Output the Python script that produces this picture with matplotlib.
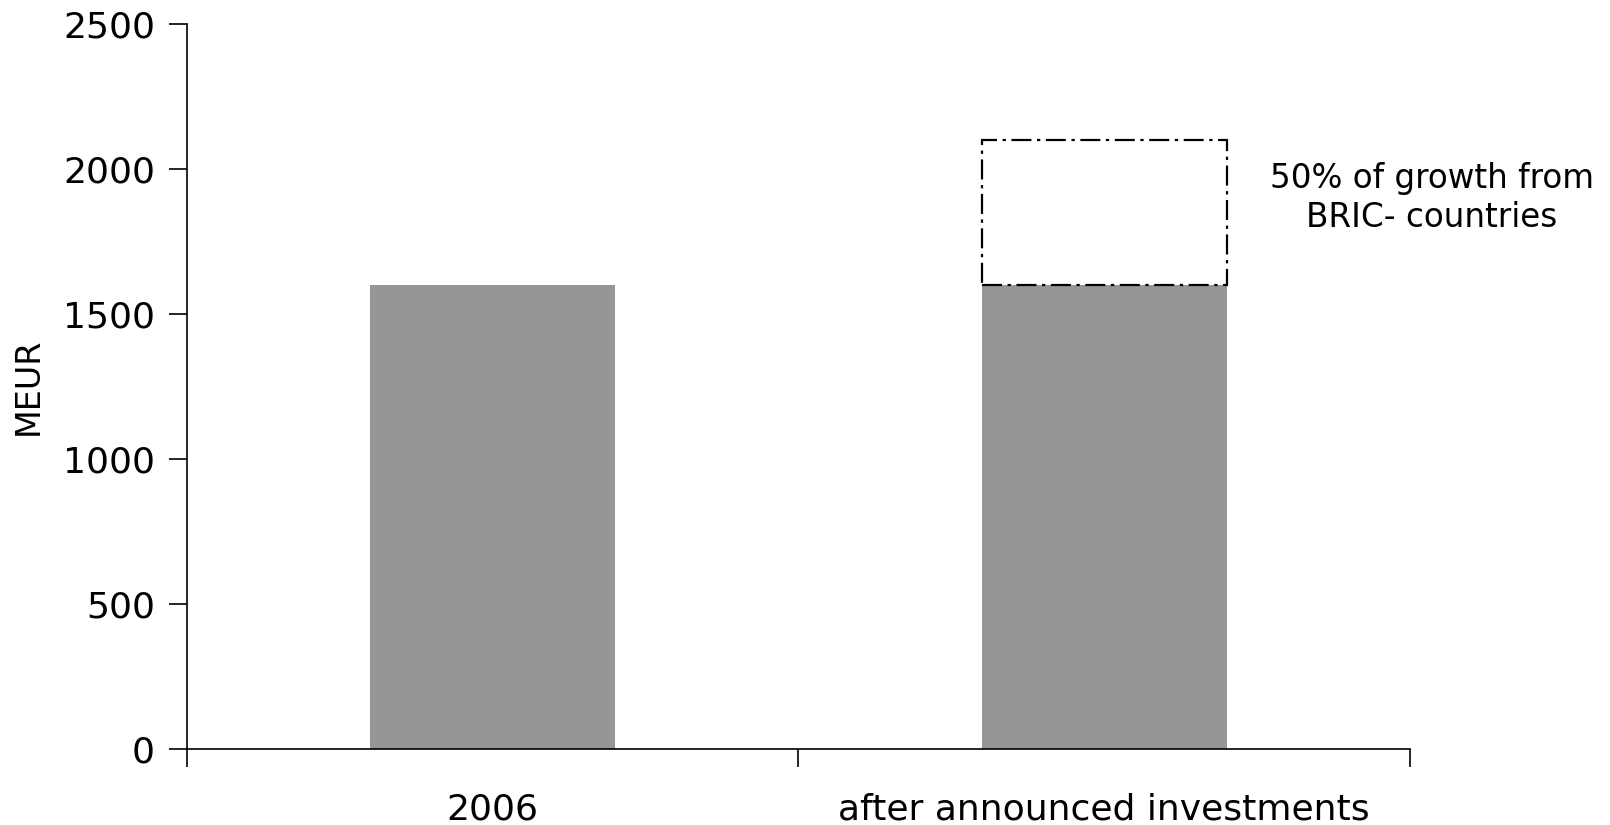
import matplotlib
matplotlib.use("Agg")
import matplotlib.pyplot as plt

# revenue in MEUR
categories = ['2006', 'after announced investments']
revenue = [1600, 1600]
growth = [0, 500]          # expected growth on top of current revenue
growth_note = '50% of growth from\nBRIC- countries'
yticks = [0, 500, 1000, 1500, 2000, 2500]

plt.rcParams['font.family'] = ['DejaVu Sans']

fig = plt.figure(figsize=(16.10, 8.25), dpi=100)
ax = fig.add_axes([0.1161, 0.0921, 0.7597, 0.8788])

x = list(range(len(categories)))
ax.bar(x, revenue, width=0.4, color='#969696', zorder=2)

# dashed box for the planned growth
for xi, base, g in zip(x, revenue, growth):
    if g <= 0:
        continue
    ax.bar(xi, g, bottom=base, width=0.4, fill=False, edgecolor='black',
           linewidth=1.6, linestyle=(0, (9, 2.5, 1.5, 2.5)), zorder=3)
    ax.text(xi + 0.536, base + g * 0.6, growth_note, ha='center', va='center',
            fontsize=23.5, linespacing=1.2, clip_on=False)

ax.set_xlim(-0.5, len(categories) - 0.5)
ax.set_ylim(0, 2500)
ax.set_yticks(yticks)
ax.set_yticklabels([str(t) for t in yticks], fontsize=26)

# category labels sit between the boundary ticks
ax.set_xticks([i - 0.5 for i in range(len(categories) + 1)])
ax.set_xticklabels([])
ax.set_xticks(x, minor=True)
ax.set_xticklabels(categories, minor=True, fontsize=26)
ax.tick_params(axis='x', which='minor', length=0, pad=31)
ax.tick_params(axis='x', which='major', direction='out', length=13, width=1.2)
ax.tick_params(axis='y', direction='out', length=13, width=1.2, pad=10)

for side in ('top', 'right'):
    ax.spines[side].set_visible(False)
for side in ('left', 'bottom'):
    ax.spines[side].set_linewidth(1.2)

ax.set_ylabel('MEUR', fontsize=24, labelpad=13)

fig.savefig('out.png', dpi=100)
